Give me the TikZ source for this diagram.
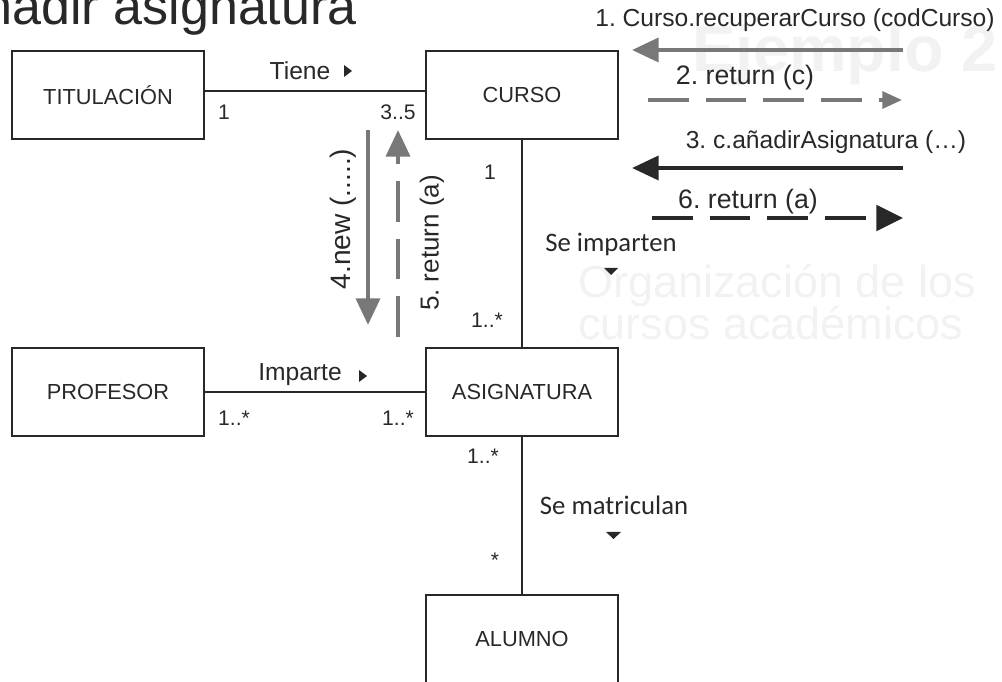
\documentclass[tikz,border=0pt]{standalone}
\usepackage{fontspec}
\setmainfont{Liberation Sans}
\newfontfamily\calib{Carlito}
\usetikzlibrary{arrows.meta}
\definecolor{arrowgray}{RGB}{120,120,120}
\definecolor{inkgray}{RGB}{40,40,40}
\frenchspacing

\begin{document}
\begin{tikzpicture}[x=0.025cm,y=-0.025cm,
  clase/.style={draw=inkgray,line width=1.1pt,minimum width=4.8cm,minimum height=2.2cm,inner sep=0pt,font=\fontsize{15.5}{18}\selectfont,text=inkgray},
  mult/.style={inner sep=0pt,font=\fontsize{15}{18}\selectfont,text=inkgray},
  rol/.style={inner sep=0pt,font=\fontsize{17.5}{20}\selectfont,text=inkgray},
  rolc/.style={inner sep=0pt,font=\calib\fontsize{19}{22}\selectfont,text=inkgray},
  msg/.style={inner sep=0pt,font=\fontsize{17.5}{20}\selectfont,text=inkgray},
  msgbig/.style={inner sep=0pt,font=\fontsize{19}{22}\selectfont,text=inkgray},
  asoc/.style={draw=inkgray,line width=0.9pt},
  ghost/.style={inner sep=0pt,text=black!5}]
\tikzstyle{call gray} = [draw=arrowgray,line width=3pt,-{Triangle[length=19pt,width=17pt]}]
\tikzstyle{call black} = [draw=inkgray,line width=3pt,-{Triangle[length=19pt,width=17pt]}]
\tikzstyle{return gray} = [draw=arrowgray,line width=2.5pt,dash pattern=on 29pt off 12pt,-{Triangle[length=14pt,width=12pt]}]
\tikzstyle{return black} = [draw=inkgray,line width=3pt,dash pattern=on 29pt off 12pt,-{Triangle[length=19pt,width=18pt]}]
\useasboundingbox (0,0) rectangle (1002,682);
\clip (0,0) rectangle (1002,682);

% Faint slide behind
\node[ghost,font=\bfseries\fontsize{46}{50}\selectfont] (ejemplo) at (845,55) {Ejemplo 2};
\node[ghost,anchor=base west,font=\fontsize{32}{36}\selectfont] (organiza) at (578,298) {Organización de los};
\node[ghost,anchor=base west,font=\fontsize{32}{36}\selectfont] (cursos) at (578,340) {cursos académicos};

% Title
\node[anchor=base east,inner sep=0pt,text=inkgray,font=\fontsize{37}{40}\selectfont] (titulo) at (357,25) {añadir asignatura};

% Classes
\node[clase] (titulacion) at (108,95) {TITULACIÓN};
\node[clase] (curso) at (522,95) {CURSO};
\node[clase] (profesor) at (108,392) {PROFESOR};
\node[clase] (asignatura) at (522,392) {ASIGNATURA};
\node[clase] (alumno) at (522,639) {ALUMNO};

% Associations
\draw[asoc] ([yshift=0.1cm]titulacion.east) -- ([yshift=0.1cm]curso.west);
\draw[asoc] (curso) -- (asignatura);
\draw[asoc] (profesor) -- (asignatura);
\draw[asoc] (asignatura) -- (alumno);

\node[rol] (tiene) at (300,71) {Tiene};
\fill[inkgray] (344,65) -- (344,77) -- (352,71) -- cycle;
\node[mult] (mtit) at (224,112) {1};
\node[mult] (mcur) at (398,112) {3..5};

\node[mult] (mcurasig) at (490,172) {1};
\node[rolc] (imparten) at (611,244) {Se imparten};
\fill[inkgray] (604,268) -- (618,268) -- (611,275) -- cycle;
\node[mult] (masigcur) at (487,320) {1..*};

\node[rol] (imparte) at (300,375) {Imparte};
\fill[inkgray] (359,370) -- (359,382) -- (367,376) -- cycle;
\node[mult] (mprof) at (234,418) {1..*};
\node[mult] (masigprof) at (398,418) {1..*};

\node[mult] (masigalum) at (483,456) {1..*};
\node[rolc] (matriculan) at (614,505) {Se matriculan};
\fill[inkgray] (606,532) -- (621,532) -- (613.5,539) -- cycle;
\node[mult] (malum) at (495,560) {*};

% Messages
\coordinate (m1s) at (903,50);
\coordinate (m1e) at (632,50);
\coordinate (m2s) at (648,100);
\coordinate (m2e) at (902,100);
\coordinate (m3s) at (903,168);
\coordinate (m3e) at (632,168);
\coordinate (m6s) at (652,218);
\coordinate (m6e) at (903,218);
\coordinate (m4s) at (368,130);
\coordinate (m4e) at (368,325);
\coordinate (m5s) at (398,337);
\coordinate (m5e) at (398,130);

\draw[call gray] (m1s) -- (m1e);
\node[msg] (txt1) at (795,20) {1. Curso.recuperarCurso (codCurso)};
\draw[return gray] (m2s) -- (m2e);
\node[msgbig] (txt2) at (745,78) {2. return (c)};
\draw[call black] (m3s) -- (m3e);
\node[msg] (txt3) at (826,142) {3. c.añadirAsignatura (…)};
\draw[return black] (m6s) -- (m6e);
\node[msgbig] (txt6) at (748,202) {6. return (a)};

\draw[call gray] (m4s) -- (m4e);
\node[msgbig,rotate=90,font=\fontsize{20}{23}\selectfont] (txt4) at (343,219) {4.new (.....)};
\draw[return gray,line width=3pt,-{Triangle[length=19pt,width=17pt]}] (m5s) -- (m5e);
\node[msgbig,rotate=90,font=\fontsize{18.5}{21}\selectfont] (txt5) at (432,243) {5. return (a)};

\end{tikzpicture}
\end{document}
